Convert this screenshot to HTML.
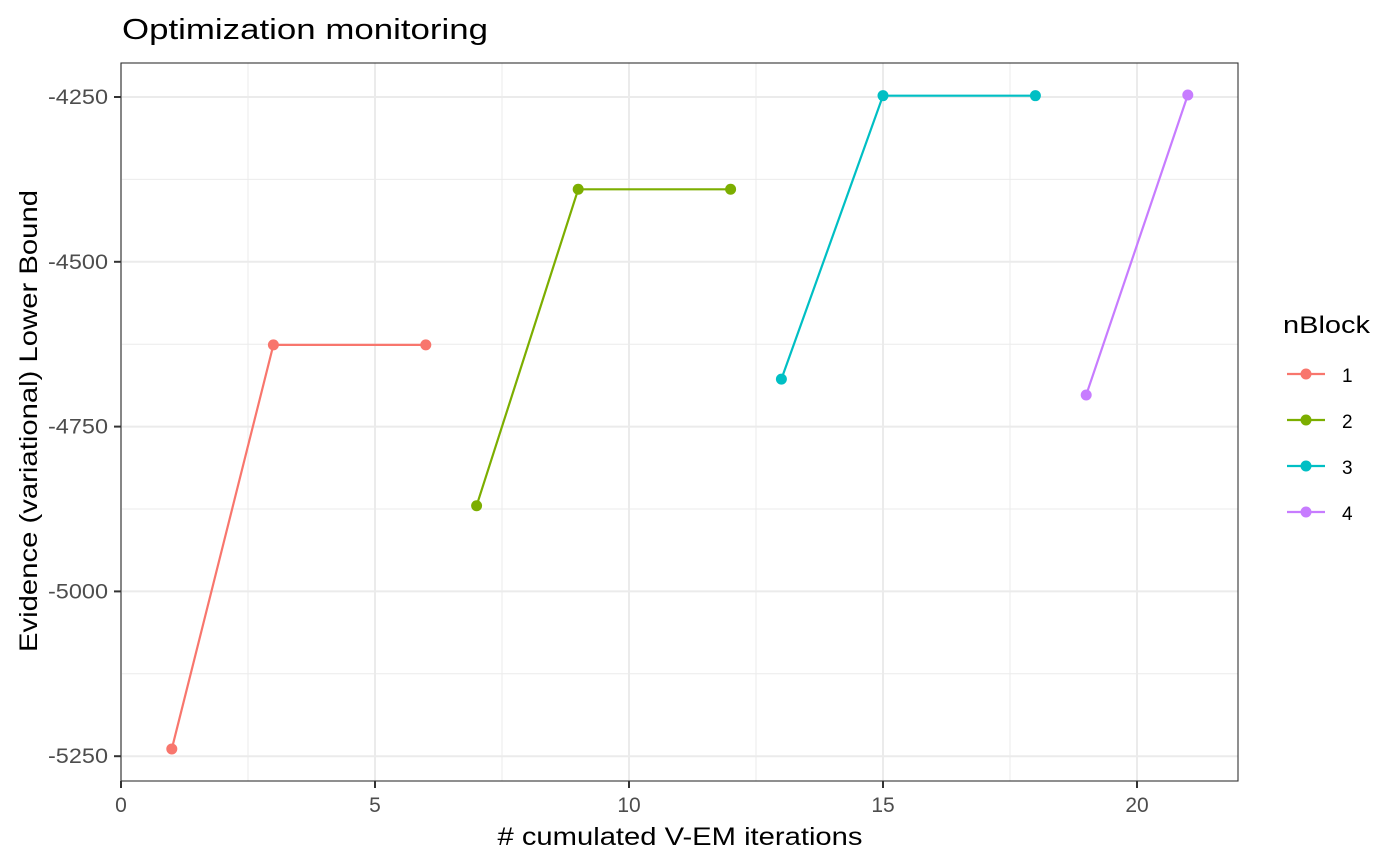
<!DOCTYPE html>
<html><head><meta charset="utf-8"><style>
body{margin:0;background:#fff;}
svg{font-family:"Liberation Sans",Arial,sans-serif;display:block}
</style></head><body>
<svg id="chart" width="1400" height="866">
<text x="122" y="39" font-size="29" textLength="366" lengthAdjust="spacingAndGlyphs" fill="#000">Optimization monitoring</text>
<g id="grid"></g>
<g id="series"></g>
<rect x="121" y="63" width="1117" height="718" fill="none" stroke="#333" stroke-width="1.1"/>
<g id="axes"></g>
<text x="680" y="845" font-size="25" textLength="365" lengthAdjust="spacingAndGlyphs" text-anchor="middle" fill="#000"># cumulated V-EM iterations</text>
<text transform="translate(37,421) rotate(-90)" font-size="25" textLength="462" lengthAdjust="spacingAndGlyphs" text-anchor="middle" fill="#000">Evidence (variational) Lower Bound</text>
<g id="legend"></g>
</svg>
<script>
const categories = ["1","2","3","4"];
const colors = ["#F8766D","#7CAE00","#00BFC4","#C77CFF"];
const xValues = [[1,3,6],[7,9,12],[13,15,18],[19,21]];
const yValues = [[-5239,-4626,-4626],[-4870,-4390,-4390],[-4678,-4248,-4248],[-4702,-4247]];
const xTicks = [0,5,10,15,20];
const yTicks = [-4250,-4500,-4750,-5000,-5250];
const xMinor = [2.5,7.5,12.5,17.5];
const yMinor = [-4375,-4625,-4875,-5125];

const L=121,R=1238,T=63,B=781;
const sx = v => 121 + v*50.8;
const sy = v => 97 + (-4250 - v)*0.6592;
const NS="http://www.w3.org/2000/svg";
function mk(tag, attrs, parent){const e=document.createElementNS(NS,tag);for(const k in attrs)e.setAttribute(k,attrs[k]);parent.appendChild(e);return e;}
const grid=document.getElementById('grid'), ser=document.getElementById('series'), ax=document.getElementById('axes'), lg=document.getElementById('legend');
xMinor.forEach(v=>{const e=mk('line',{x1:sx(v),x2:sx(v),y1:T,y2:B,stroke:'#EBEBEB','stroke-width':1},grid);

});
yMinor.forEach(v=>{const e=mk('line',{x1:L,x2:R,y1:sy(v),y2:sy(v),stroke:'#EBEBEB','stroke-width':1},grid);

});
xTicks.forEach(v=>{const e=mk('line',{x1:sx(v),x2:sx(v),y1:T,y2:B,stroke:'#EBEBEB','stroke-width':2},grid);


const t=mk('line',{x1:sx(v),x2:sx(v),y1:B,y2:B+7,stroke:'#333','stroke-width':2},ax);


const l=mk('text',{x:sx(v),y:812,'font-size':21,fill:'#4D4D4D','text-anchor':'middle'},ax);l.textContent=v;

});
yTicks.forEach(v=>{const e=mk('line',{x1:L,x2:R,y1:sy(v),y2:sy(v),stroke:'#EBEBEB','stroke-width':2},grid);


const t=mk('line',{x1:L-7,x2:L,y1:sy(v),y2:sy(v),stroke:'#333','stroke-width':2},ax);


const l=mk('text',{x:108,y:sy(v)+7,'font-size':21,fill:'#4D4D4D','text-anchor':'end',textLength:60,lengthAdjust:'spacingAndGlyphs'},ax);l.textContent=v;

});
categories.forEach((c,i)=>{
 const pts=xValues[i].map((x,j)=>sx(x)+','+sy(yValues[i][j])).join(' ');
 const p=mk('polyline',{points:pts,fill:'none',stroke:colors[i],'stroke-width':2.2},ser);
 
 
 xValues[i].forEach((x,j)=>{const d=mk('circle',{cx:sx(x),cy:sy(yValues[i][j]),r:5.5,fill:colors[i]},ser);
 
 });
 const y=374+i*46;
 const ll=mk('line',{x1:1287,x2:1325,y1:y,y2:y,stroke:colors[i],'stroke-width':2.2},lg);
 
 
 const lc=mk('circle',{cx:1306,cy:y,r:5.5,fill:colors[i]},lg);
 
 
 const lt=mk('text',{x:1342,y:y+8,'font-size':19,fill:'#000'},lg);lt.textContent=c;
 
 
});
const tt=mk('text',{x:1283,y:333,'font-size':24,fill:'#000',textLength:87,lengthAdjust:'spacingAndGlyphs'},lg);tt.textContent='nBlock';


</script>
</body></html>
